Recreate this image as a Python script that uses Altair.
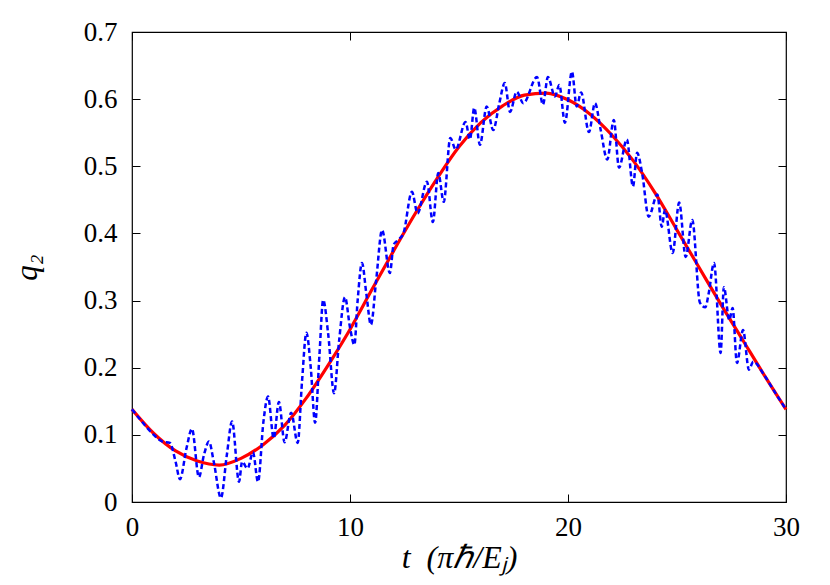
import altair as alt
import pandas as pd

# smooth (red) curve
red_t = [0, 1, 2, 3, 4, 5, 6, 7, 8, 9, 10, 11, 12, 13, 14, 15, 16, 17, 18, 19,
         20, 21, 22, 23, 24, 25, 26, 27, 28, 29, 30]
red_q = [0.138, 0.102, 0.076, 0.061, 0.055, 0.065, 0.085, 0.114, 0.155, 0.204,
         0.257, 0.316, 0.374, 0.430, 0.482, 0.529, 0.565, 0.590, 0.606, 0.609,
         0.599, 0.578, 0.547, 0.508, 0.460, 0.405, 0.350, 0.295, 0.242, 0.189, 0.138]

# noisy (blue dashed) curve
blue_t = [0.0, 0.5, 1.0, 1.4, 1.74, 2.0, 2.2, 2.5, 2.75, 3.07, 3.3, 3.53, 3.75,
          4.08, 4.35, 4.59, 4.91, 5.05, 5.3, 5.55, 5.78, 6.03, 6.24, 6.5, 6.74,
          7.0, 7.3, 7.6, 7.8, 8.0, 8.2, 8.4, 8.6, 8.77, 9.0, 9.27, 9.5, 9.77,
          10.0, 10.2, 10.35, 10.55, 10.75, 10.96, 11.2, 11.47, 11.83, 12.0, 12.2,
          12.45, 12.84, 13.1, 13.53, 13.8, 14.05, 14.3, 14.6, 14.85, 15.3, 15.5,
          15.7, 15.96, 16.27, 16.57, 16.85, 17.1, 17.34, 17.65, 17.95, 18.58,
          18.85, 19.08, 19.4, 19.6, 19.86, 20.18, 20.4, 20.6, 20.96, 21.24, 21.5,
          21.8, 22.1, 22.34, 22.7, 22.98, 23.17, 23.4, 23.7, 24.1, 24.3, 24.45,
          24.8, 25.1, 25.4, 25.7, 26.05, 26.3, 26.45, 26.7, 27.0, 27.15, 27.4,
          27.55, 27.75, 28.03, 28.3, 28.5, 29.0, 29.5, 30.0]
blue_q = [0.138, 0.118, 0.100, 0.090, 0.088, 0.060, 0.034, 0.080, 0.109, 0.037,
          0.070, 0.090, 0.060, 0.006, 0.070, 0.120, 0.030, 0.060, 0.050, 0.074,
          0.030, 0.120, 0.157, 0.095, 0.149, 0.089, 0.133, 0.088, 0.180, 0.252,
          0.200, 0.118, 0.220, 0.301, 0.250, 0.162, 0.240, 0.305, 0.260, 0.234,
          0.300, 0.356, 0.310, 0.264, 0.330, 0.405, 0.341, 0.383, 0.390, 0.400,
          0.462, 0.430, 0.477, 0.417, 0.490, 0.447, 0.542, 0.525, 0.566, 0.540,
          0.587, 0.532, 0.589, 0.554, 0.594, 0.624, 0.581, 0.611, 0.594, 0.633,
          0.592, 0.633, 0.604, 0.621, 0.565, 0.641, 0.589, 0.610, 0.551, 0.594,
          0.554, 0.510, 0.569, 0.498, 0.540, 0.470, 0.520, 0.490, 0.425, 0.458,
          0.410, 0.435, 0.371, 0.446, 0.365, 0.420, 0.297, 0.290, 0.310, 0.356,
          0.222, 0.320, 0.271, 0.289, 0.207, 0.256, 0.197, 0.209, 0.189, 0.163,
          0.138]

x_ticks = [0, 10, 20, 30]
y_ticks = [0, 0.1, 0.2, 0.3, 0.4, 0.5, 0.6, 0.7]

red_df = pd.DataFrame({"t": red_t, "q": red_q})
blue_df = pd.DataFrame({"t": blue_t, "q": blue_q})

FONT = "Liberation Serif"

xscale = alt.Scale(domain=[0, 30], nice=False, zero=False)
yscale = alt.Scale(domain=[0, 0.7], nice=False)

common_axis = dict(grid=False, domain=False, ticks=True, tickSize=8, offset=-8,
                   tickColor="black", tickWidth=1, labelFlush=False)

red = alt.Chart(red_df).mark_line(color="#ff0000", strokeWidth=3.2,
                                  interpolate="monotone").encode(
    x=alt.X("t:Q", scale=xscale,
            axis=alt.Axis(orient="bottom", values=x_ticks, format="d",
                          title="t\u00a0\u00a0(πℏ/Eⱼ)", labelFont=FONT, labelFontSize=27,
                          labelColor="black", labelPadding=12,
                          titleFont=FONT, titleFontSize=32, titleFontStyle="italic",
                          titleFontWeight="normal", titleColor="black",
                          titlePadding=2, **common_axis)),
    y=alt.Y("q:Q", scale=yscale,
            axis=alt.Axis(orient="left", values=y_ticks, format="~g",
                          title="q₂", labelFont=FONT, labelFontSize=27,
                          labelColor="black", labelPadding=15,
                          titleFont=FONT, titleFontSize=31, titleFontStyle="italic",
                          titleFontWeight="normal", titleColor="black",
                          titlePadding=40, **common_axis)),
)

blue = alt.Chart(blue_df).mark_line(color="#0000ff", strokeWidth=2.5,
                                    strokeDash=[5, 3],
                                    interpolate="monotone").encode(
    x=alt.X("t:Q", scale=xscale,
            axis=alt.Axis(orient="top", values=x_ticks, labels=False, title=None,
                          **common_axis)),
    y=alt.Y("q:Q", scale=yscale,
            axis=alt.Axis(orient="right", values=y_ticks, labels=False, title=None,
                          **common_axis)),
)

chart = alt.layer(red, blue).resolve_axis(x="independent", y="independent").properties(
    width=654, height=470,
    autosize=alt.AutoSizeParams(type="none"),
    padding={"left": 124, "top": 24, "right": 36, "bottom": 75},
    background="white",
).configure_view(stroke="black", strokeWidth=1.2)

chart.save("out.html", embed_options={"renderer": "svg", "actions": False})
